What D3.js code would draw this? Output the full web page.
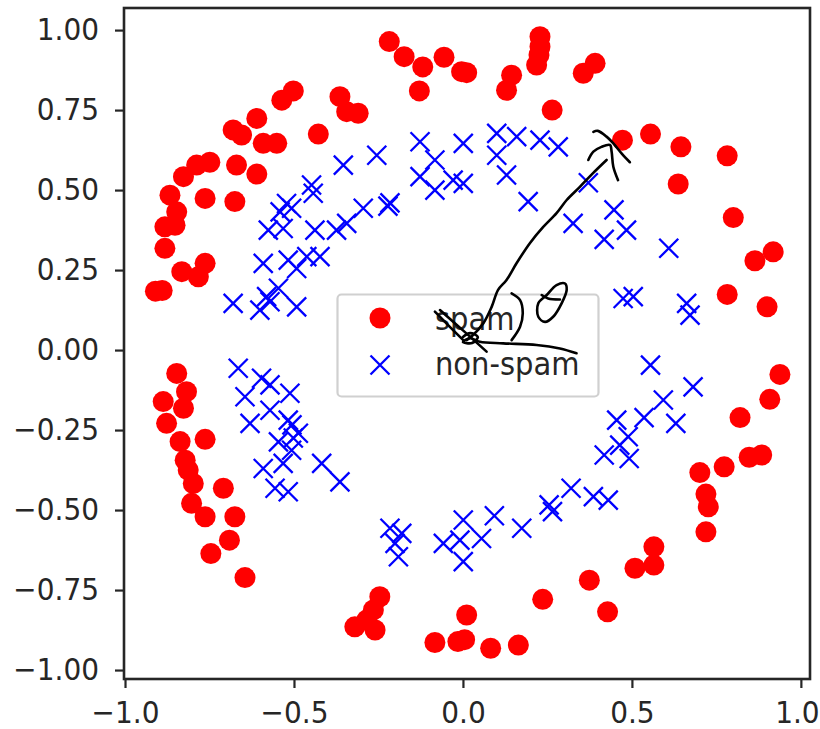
<!DOCTYPE html>
<html>
<head>
<meta charset="utf-8">
<script src="https://cdn.jsdelivr.net/npm/d3@7"></script>
<style>
  body { margin: 0; background: #fff; }
  svg text { font-family: "DejaVu Sans", sans-serif; }
  .stretch { transform-box: fill-box; transform-origin: center; transform: scaleY(1.1); }
</style>
</head>
<body>
<svg id="canvas" width="820" height="729"></svg>
<script>
// Data
let spamPoints = [
  [-0.218, 0.964], [-0.174, 0.917], [-0.119, 0.885], [-0.056, 0.915], [-0.004, 0.870], [0.011, 0.867], [-0.129, 0.810],
  [0.228, 0.979], [0.228, 0.948], [0.225, 0.922], [0.218, 0.891], [0.144, 0.859], [0.129, 0.812], [0.391, 0.896], [0.356, 0.865], [0.264, 0.750],
  [-0.502, 0.810], [-0.536, 0.781], [-0.364, 0.792], [-0.344, 0.745], [-0.310, 0.740], [-0.610, 0.724], [-0.680, 0.688], [-0.655, 0.672],
  [-0.591, 0.646], [-0.551, 0.646], [-0.428, 0.675], [-0.749, 0.587], [-0.788, 0.578], [-0.827, 0.542], [-0.670, 0.578], [-0.610, 0.550],
  [-0.867, 0.484], [-0.763, 0.474], [-0.675, 0.464], [-0.847, 0.432], [-0.882, 0.385], [-0.852, 0.390], [-0.882, 0.318], [-0.763, 0.271],
  [-0.832, 0.245], [-0.783, 0.229], [-0.910, 0.184], [-0.890, 0.186],
  [0.472, 0.656], [0.555, 0.675], [0.645, 0.635], [0.782, 0.607], [0.637, 0.519], [0.800, 0.414], [0.918, 0.307], [0.864, 0.279],
  [0.782, 0.174], [0.900, 0.135],
  [-0.847, -0.073], [-0.818, -0.130], [-0.887, -0.161], [-0.827, -0.182], [-0.877, -0.229], [-0.763, -0.279], [-0.837, -0.286],
  [-0.822, -0.344], [-0.813, -0.375], [-0.798, -0.417], [-0.709, -0.432], [-0.803, -0.479], [-0.763, -0.521], [-0.675, -0.521],
  [-0.691, -0.594], [-0.746, -0.636], [-0.645, -0.711],
  [-0.246, -0.771], [-0.265, -0.812], [-0.285, -0.844], [-0.320, -0.865], [-0.260, -0.875], [-0.083, -0.914], [-0.015, -0.911],
  [0.005, -0.905], [0.011, -0.828], [0.082, -0.932], [0.164, -0.922], [0.236, -0.779],
  [0.938, -0.076], [0.908, -0.154], [0.820, -0.211], [0.884, -0.328], [0.847, -0.335], [0.773, -0.365], [0.701, -0.383],
  [0.719, -0.450], [0.726, -0.490], [0.719, -0.568], [0.565, -0.615], [0.565, -0.672], [0.509, -0.682], [0.374, -0.719], [0.428, -0.818]
];

let nonSpamPoints = [
  [-0.127, 0.651], [0.001, 0.646], [-0.083, 0.594], [-0.127, 0.542], [-0.083, 0.500], [-0.029, 0.531], [0.001, 0.521], [-0.255, 0.609],
  [0.100, 0.677], [0.159, 0.667], [0.100, 0.609], [0.228, 0.656], [0.282, 0.635], [0.129, 0.547], [0.193, 0.464], [0.371, 0.523],
  [0.447, 0.438], [0.326, 0.396], [0.484, 0.375], [0.418, 0.346], [0.609, 0.318], [0.474, 0.161], [0.504, 0.167], [0.662, 0.146], [0.672, 0.109],
  [-0.448, 0.516], [-0.443, 0.490], [-0.522, 0.458], [-0.507, 0.443], [-0.541, 0.432], [-0.576, 0.375], [-0.532, 0.380], [-0.438, 0.375],
  [-0.374, 0.375], [-0.344, 0.396], [-0.295, 0.443], [-0.591, 0.271], [-0.517, 0.281], [-0.492, 0.255], [-0.462, 0.292], [-0.423, 0.292],
  [-0.546, 0.193], [-0.581, 0.167], [-0.601, 0.125], [-0.680, 0.146], [-0.492, 0.135], [-0.571, 0.151], [-0.354, 0.578],
  [-0.216, 0.460], [-0.222, 0.450],
  [-0.665, -0.057], [-0.596, -0.088], [-0.571, -0.109], [-0.645, -0.146], [-0.512, -0.135], [-0.571, -0.188], [-0.630, -0.229],
  [-0.517, -0.219], [-0.506, -0.234], [-0.487, -0.260], [-0.546, -0.287], [-0.502, -0.275], [-0.507, -0.313], [-0.591, -0.370],
  [-0.532, -0.354], [-0.418, -0.354], [-0.364, -0.412], [-0.556, -0.432], [-0.517, -0.443],
  [-0.216, -0.557], [-0.181, -0.573], [-0.201, -0.604], [-0.191, -0.646], [-0.058, -0.604], [0.001, -0.531], [-0.009, -0.594],
  [0.001, -0.661], [0.093, -0.518], [0.174, -0.557], [0.055, -0.589],
  [0.555, -0.047], [0.681, -0.115], [0.593, -0.156], [0.630, -0.229], [0.455, -0.219], [0.536, -0.211], [0.489, -0.271],
  [0.464, -0.297], [0.418, -0.328], [0.492, -0.339], [0.320, -0.432], [0.255, -0.484], [0.265, -0.505], [0.386, -0.458], [0.430, -0.469]
];

let xTicks = [-1.0, -0.5, 0.0, 0.5, 1.0];
let yTicks = [-1.0, -0.75, -0.5, -0.25, 0.0, 0.25, 0.5, 0.75, 1.0];
let seriesNames = ["spam", "non-spam"];

// hand-drawn pen strokes on top of the chart, in data units
let penStrokes = [
  [[0.011, 0.031], [0.030, 0.047], [0.060, 0.083], [0.085, 0.135], [0.104, 0.188], [0.129, 0.219], [0.159, 0.272], [0.198, 0.334],
   [0.237, 0.384], [0.277, 0.428], [0.307, 0.469], [0.346, 0.510], [0.385, 0.553], [0.425, 0.594]],
  [[0.386, 0.682], [0.399, 0.685], [0.425, 0.667], [0.445, 0.646], [0.470, 0.614], [0.494, 0.587]],
  [[0.371, 0.594], [0.386, 0.620], [0.410, 0.635], [0.435, 0.641], [0.440, 0.620], [0.445, 0.573], [0.459, 0.531]],
  [[-0.083, 0.120], [-0.041, 0.075], [0.001, 0.031]],
  [[-0.068, 0.125], [0.006, 0.056], [0.070, -0.005]],
  [[0.000, 0.041], [0.021, 0.053], [0.044, 0.041], [0.027, 0.022], [0.000, 0.025], [0.021, 0.037], [0.050, 0.026],
   [0.119, 0.021], [0.218, 0.016], [0.287, 0.005], [0.336, -0.010]],
  [[0.144, 0.177], [0.169, 0.156], [0.177, 0.115], [0.169, 0.073], [0.144, 0.031]],
  [[0.233, 0.172], [0.252, 0.161], [0.287, 0.158]]
];
let penLoop = [[0.248, 0.172], [0.277, 0.203], [0.302, 0.208], [0.307, 0.188], [0.292, 0.146], [0.267, 0.104], [0.243, 0.088],
  [0.223, 0.104], [0.223, 0.146]];

let plotLeft = 124, plotRight = 810, plotTop = 8, plotBottom = 679;

let canvas = d3.select("#canvas");

let xScale = d3.scaleLinear().domain([-1.003, 1.027]).range([plotLeft, plotRight]);
let yScale = d3.scaleLinear().domain([-1.028, 1.069]).range([plotBottom, plotTop]);

let textColor = "#262626";

// points
canvas.append("g")
  .selectAll("circle")
  .data(spamPoints)
  .enter()
  .append("circle")
  .attr("cx", d => xScale(d[0]))
  .attr("cy", d => yScale(d[1]))
  .attr("r", 10.5)
  .attr("fill", "#ff0000");

let crossPath = "M-9.5,-9.5L9.5,9.5M-9.5,9.5L9.5,-9.5";

canvas.append("g")
  .selectAll("path")
  .data(nonSpamPoints)
  .enter()
  .append("path")
  .attr("d", crossPath)
  .attr("transform", d => `translate(${xScale(d[0])},${yScale(d[1])})`)
  .attr("fill", "none")
  .attr("stroke", "#0000ff")
  .attr("stroke-width", 2.3);

// axes
let yAxis = d3.axisLeft(yScale)
  .tickValues(yTicks)
  .tickFormat(d3.format(".2f"))
  .tickSize(9)
  .tickPadding(16);

let xAxis = d3.axisBottom(xScale)
  .tickValues(xTicks)
  .tickFormat(d3.format(".1f"))
  .tickSize(9)
  .tickPadding(14);

let yG = canvas.append("g").attr("transform", `translate(${plotLeft},0)`).call(yAxis);
let xG = canvas.append("g").attr("transform", `translate(0,${plotBottom})`).call(xAxis);

[xG, yG].forEach(g => {
  g.select(".domain").remove();
  g.selectAll(".tick line").attr("stroke", textColor).attr("stroke-width", 2.2);
  g.selectAll(".tick text")
    .attr("class", "stretch")
    .attr("fill", textColor)
    .style("font-size", "28px")
    .style("font-family", "'DejaVu Sans', sans-serif");
});

// last x label sits at the window edge, pull it in a little
xG.selectAll(".tick text").filter(d => d === 1).attr("dx", -4);

// frame
canvas.append("rect")
  .attr("x", plotLeft)
  .attr("y", plotTop)
  .attr("width", plotRight - plotLeft)
  .attr("height", plotBottom - plotTop)
  .attr("fill", "none")
  .attr("stroke", textColor)
  .attr("stroke-width", 2.6);

// legend
let legend = canvas.append("g");
legend.append("rect")
  .attr("x", 337.5)
  .attr("y", 294.5)
  .attr("width", 261)
  .attr("height", 102)
  .attr("rx", 4)
  .attr("fill", "#fff")
  .attr("fill-opacity", 0.8)
  .attr("stroke", "#d0d0d0")
  .attr("stroke-width", 2.2);

legend.append("circle")
  .attr("cx", 380)
  .attr("cy", 318)
  .attr("r", 10.5)
  .attr("fill", "#ff0000");

legend.append("path")
  .attr("d", crossPath)
  .attr("transform", "translate(380,365)")
  .attr("fill", "none")
  .attr("stroke", "#0000ff")
  .attr("stroke-width", 2.3);

legend.selectAll("text")
  .data(seriesNames)
  .enter()
  .append("text")
  .attr("class", "stretch")
  .attr("x", 435)
  .attr("y", (d, i) => 329 + i * 45)
  .attr("fill", textColor)
  .style("font-size", "29px")
  .text(d => d);

// pen marks
let penLine = d3.line()
  .x(d => xScale(d[0]))
  .y(d => yScale(d[1]))
  .curve(d3.curveCatmullRom);

let pen = canvas.append("g")
  .attr("fill", "none")
  .attr("stroke", "#000")
  .attr("stroke-width", 2.6)
  .attr("stroke-linecap", "round")
  .attr("stroke-linejoin", "round");

pen.selectAll("path")
  .data(penStrokes)
  .enter()
  .append("path")
  .attr("d", penLine);

pen.append("path")
  .attr("d", penLine.curve(d3.curveCatmullRomClosed)(penLoop));
</script>
</body>
</html>
